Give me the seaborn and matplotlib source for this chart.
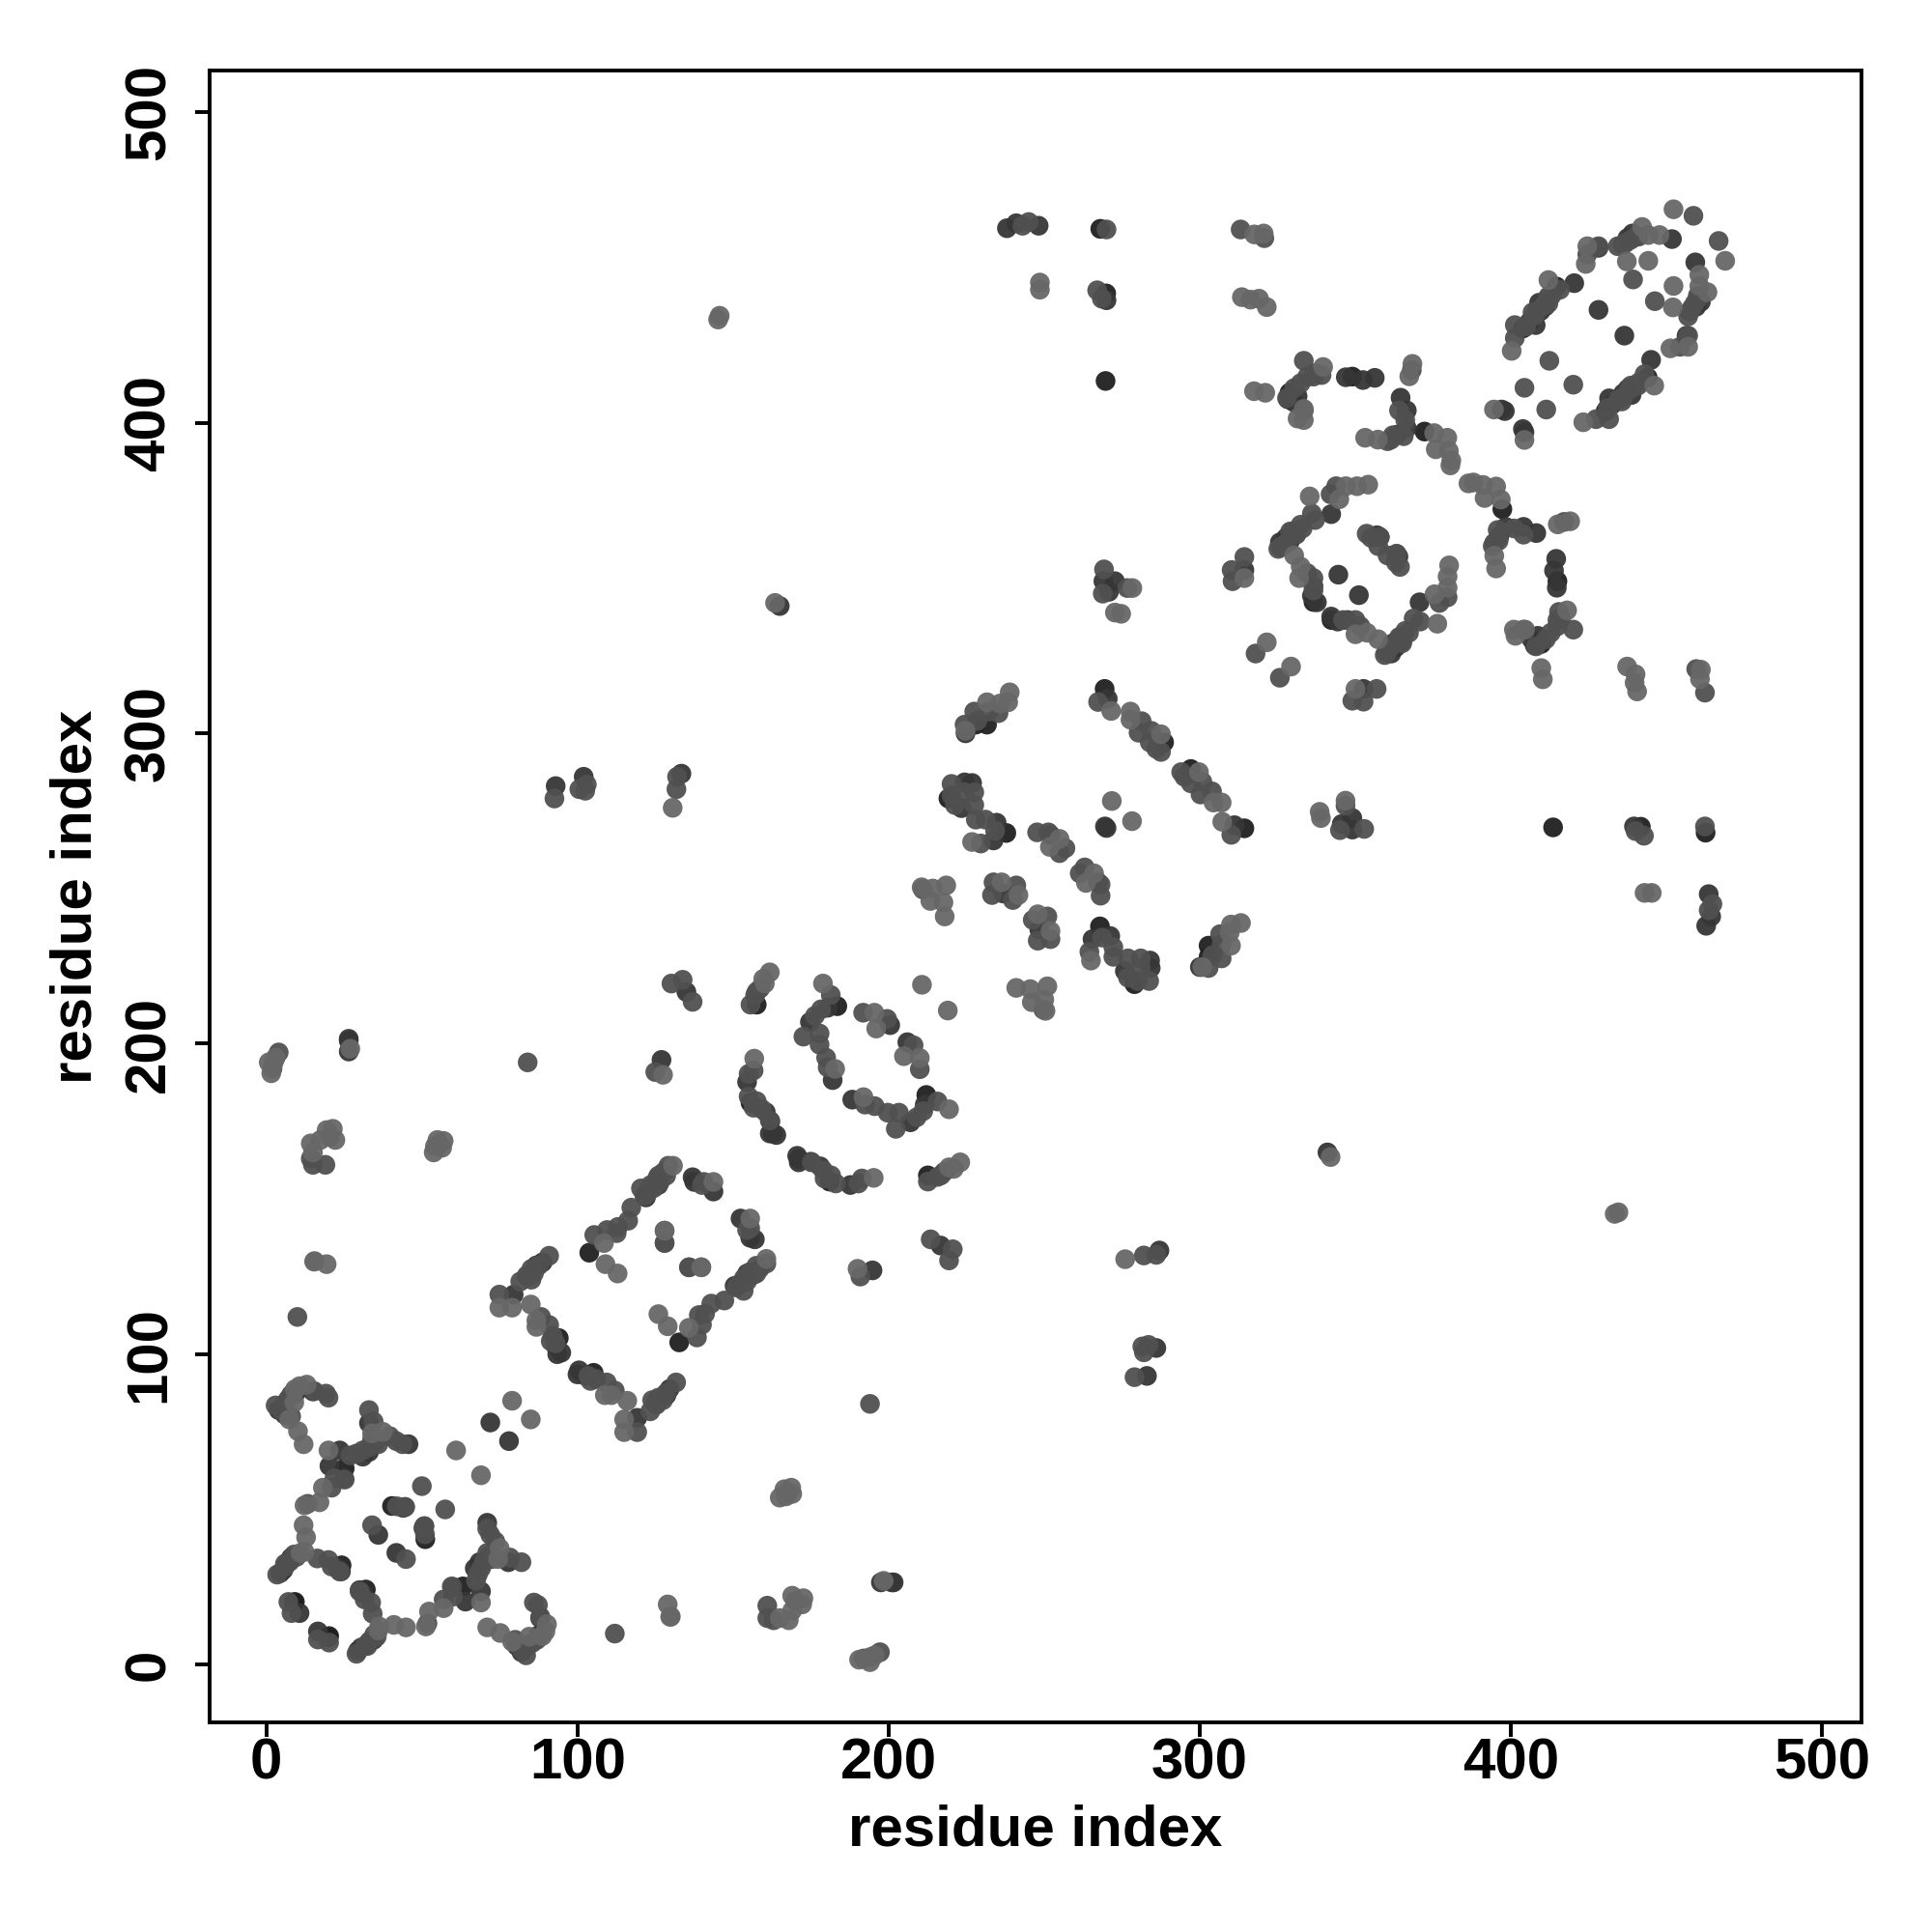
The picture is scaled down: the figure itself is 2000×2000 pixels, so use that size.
import matplotlib
matplotlib.use("Agg")
import matplotlib.pyplot as plt
import pandas as pd
import seaborn as sns

# contacts are read from the part of the map above the diagonal (residue i, residue j),
# the map is symmetric so the other half comes from swapping the columns
very_dark_contacts = [
    (25.2, 63.2), (24.2, 32), (9.2, 20.2), (40.4, 51.1), (8.8, 20), (103.8, 132.7), (94, 105.2),
    (157.6, 212.6), (183.5, 212.1), (269.4, 314.3), (288.5, 297.1),
    (228, 302.8), (231.6, 302.8), (372.2, 397.2), (336.5, 342.3), (328.8, 409.7), (414.6, 443.9),
    (269.7, 413.5), (269.9, 441.7), (268, 462.5), (237.8, 267.9), (219.2, 279), (349, 414.9),
    (403.8, 430.4), (155.6, 181),
]

dark_contacts = [
    (4, 82), (6, 80.5), (9.5, 87.5), (15, 88), (23.6, 69), (20.3, 64), (33, 77.8), (25, 60),
    (45.7, 71), (24, 30), (23, 31), (4.5, 29.5), (5.5, 30.5), (10.7, 16.6), (50.5, 44), (36, 41.8),
    (72, 78), (79.5, 119.2), (86.8, 128.6), (88.8, 129.6), (93, 102.6), (94.8, 100.5), (93.5, 100),
    (137, 157), (137.5, 155.5), (143.7, 152.4), (154.5, 187.7), (162.8, 171.1), (161.8, 171.1),
    (170.6, 163.9), (174.7, 207), (180.4, 211.6), (182, 188.3), (224.7, 300), (270.4, 311.1),
    (226.8, 284), (224.4, 284.2), (223.4, 275.9), (234.7, 271.2), (233.7, 265.5), (236.8, 248.4),
    (267.3, 252), (328.3, 407.6), (330.3, 406.6), (331.4, 408.6), (346.9, 414.7), (352.4, 413.8),
    (364.5, 408.1), (366.5, 404), (366.5, 398.3), (363.4, 396.2), (342.2, 370.6), (327.7, 363),
    (325.7, 361.5), (336.5, 347.4), (336, 344.3), (337.6, 342.2), (344.5, 351.1), (356.9, 363.8),
    (357.8, 363.2), (314.3, 352.6), (407.9, 431.5), (405.9, 432.5), (409, 438.7), (420.3, 445),
    (428.1, 436.4), (428.1, 456.4), (437.4, 459.5), (439, 461), (451.7, 459.2), (397, 404.3),
    (403.8, 398), (356.2, 414.5), (269, 349), (270.8, 345.6), (272.7, 349), (248.2, 463.5),
    (238, 462.7), (241, 464.3), (93, 283), (102, 286), (26.5, 201.6), (133.4, 287), (165, 341),
    (162, 175), (160.5, 178), (127, 194.8), (135, 216.7), (200.5, 206), (201, 26.5), (197.5, 26.5),
    (7, 33), (8, 34.5), (31, 67), (33, 68.5), (122, 150.5), (126, 154.5), (409.5, 436), (411, 437.5),
    (329, 362), (331, 364.5), (269.5, 270), (270, 439.5),
]

mid_contacts = [
    (3, 83.5), (5, 81.9), (7, 85.5), (8, 87), (6, 84), (8, 80), (15.4, 88.1), (19.2, 87.3),
    (20, 86), (33, 82), (34.5, 78.3), (27, 67.4), (29, 68), (31, 69), (33, 70), (35, 71.5),
    (36, 71), (39.7, 73.6), (41.8, 72), (43.8, 71), (21.9, 60), (21, 57), (25.2, 59.6), (13.3, 51.8),
    (9.7, 34.7), (7.6, 33.2), (6, 31.6), (3.5, 29), (16.4, 34.2), (20, 33.7), (21, 31.6), (23.6, 30),
    (7.1, 20.2), (8.1, 16.6), (50, 57.5), (44.6, 50.8), (42, 51), (34, 44.9), (50.8, 44.6),
    (74.9, 119.2), (81.6, 123.4), (83.7, 125.4), (85.2, 127.5), (84, 125), (87.5, 128.5), (90.9, 131.7),
    (90.9, 109.4), (88.3, 112), (91.4, 104.2), (93, 103.5), (92, 106), (105.4, 138.4), (109.5, 140),
    (112.6, 139), (113, 141), (116.3, 143), (117.3, 147.2), (120.4, 153.4), (122.5, 151.9), (121.5, 151),
    (123.5, 154.5), (124.5, 153.5), (125.6, 156.6), (126.5, 155.5), (127.6, 158.6), (128.5, 157.5),
    (129.2, 160.7), (140.6, 155.5), (140, 154.5), (128, 135.8), (135.9, 128), (85.2, 124), (86, 126),
    (156.6, 191.4), (155, 190.3), (155, 183), (157.6, 181.5), (159.2, 179), (161.8, 175.3), (156.6, 179.4),
    (157.6, 216.8), (157.1, 215.7), (158.7, 217.8), (155.6, 212.6), (176.3, 209), (178.3, 211.1),
    (181.4, 215.7), (172.6, 202.3), (177.8, 203.3), (177.8, 199.7), (179.9, 195.5), (180.4, 192.4),
    (191.8, 210), (199.5, 208), (227.5, 307), (235.3, 306.5), (228.5, 304), (232.1, 307), (224.4, 302.8),
    (267.3, 310.1), (281.3, 303.9), (280.3, 300.2), (284.4, 300.8), (283.9, 297.1), (286, 295),
    (287.5, 294), (220.2, 283.7), (224.4, 281), (227.5, 281), (221.3, 276.9), (220.2, 280), (227.5, 276.9),
    (231.1, 272.2), (228, 272.2), (234.2, 268.6), (229.6, 264.5), (247.7, 268.1), (251.3, 268.1),
    (254.9, 261.4), (256.8, 263), (233.7, 252), (233.2, 247.9), (239.9, 246.3), (241, 251),
    (330.3, 411.2), (333.4, 420), (332.4, 412.8), (334.5, 414.9), (336.5, 414.9), (339.1, 415.4),
    (337, 416), (328, 408), (333.4, 404), (368.1, 417), (364, 404), (361.4, 394.6), (360.3, 394.1),
    (362, 396), (365.5, 395.7), (366, 400.9), (329.8, 365.1), (332.4, 367.2), (336, 370.8), (337, 368.7),
    (326, 360), (325.2, 359.4), (331, 364), (333, 366), (336.5, 350), (336.5, 346), (334.5, 351.6),
    (343.8, 379.6), (342, 377), (353.6, 364.3), (355, 363), (360.3, 357.3), (363.2, 357.8),
    (310.2, 352.6), (314.3, 356.8), (310.5, 349), (317.9, 325.7), (401.2, 431.5), (401.2, 427.3),
    (404.8, 431), (406.9, 435.6), (407.5, 434.5), (408.2, 436), (410.5, 437.7), (411.5, 439), (412, 440.8),
    (415.7, 442.9), (424.5, 454.3), (428.1, 456.9), (434.3, 456.9), (435.9, 457.4), (436.9, 458),
    (441, 460), (438.5, 459), (440, 460), (439.2, 446.2), (458.6, 466.7), (404.3, 411.3),
    (412.3, 420), (268.8, 345), (267, 442.7), (245, 464.7), (243, 463.5), (313.1, 462.3),
    (320.7, 459.5), (92.6, 279), (103, 283.5), (100.6, 282), (131.8, 282), (14.3, 163), (15, 161), (19, 161),
    (84, 194), (10, 112), (133.8, 220.6), (130.2, 219.4), (137, 213.5), (125, 190.9), (4, 197.2),
    (276.7, 346.8), (269.2, 352.8), (249.7, 211), (270, 462.3), (268.5, 440), (2, 192),
    (132, 286), (6, 32.5), (9, 35.5), (34, 72.5), (123, 153), (125, 155), (126, 157.5), (412, 438.5),
    (413, 441), (327.5, 361), (329, 365), (102.5, 281.5), (55.5, 167.5), (20.5, 170),
]

light_contacts = [
    (9, 84.5), (10.2, 75.2), (7.4, 79), (12, 71), (13, 90.2), (10.7, 89.7), (9.2, 88.7), (20, 69),
    (34, 74.5), (37.5, 75), (18.2, 57), (17.1, 52.3), (12.3, 51.3), (12, 44.9), (12.8, 41), (12.3, 36.3),
    (11, 36), (61, 69), (79, 85), (85, 116), (86.8, 110.9), (86.8, 108.8), (74.9, 115), (79, 115),
    (108.5, 135.8), (109, 129), (112.9, 126), (143.7, 155.5), (130.7, 160.7), (128, 139.8), (139.8, 128),
    (161.8, 223), (160.2, 219.4), (159.7, 220.9), (156.8, 195.2), (178.9, 219.4), (182.8, 191.9),
    (195.4, 210), (196, 204.9), (210.7, 219), (238.9, 313.2), (235.8, 309.6), (231.6, 310), (238.4, 310),
    (224.7, 300.8), (271.5, 307.2), (277.7, 307), (277.7, 304.4), (287.5, 299.7), (271.7, 278.2),
    (251.8, 263.4), (254.9, 266), (226.8, 265), (236.3, 252), (241.7, 247.9), (210.6, 250.4),
    (214.2, 250), (218.5, 251), (213.4, 246), (217.6, 245.5), (218, 241), (317.4, 410.2), (321, 409.7),
    (339.6, 418), (331.4, 401.4), (333.4, 400.9), (333.4, 404.5), (368.3, 419), (367.3, 415),
    (353.1, 395.2), (357.2, 394.6), (375.3, 396.7), (379.5, 395.2), (375.8, 391.5), (380, 391),
    (380.8, 387.9), (380.5, 386.3), (335.3, 376.3), (344.8, 375.4), (346.9, 379.6), (350.5, 379.6),
    (354.1, 380.1), (330.3, 357.3), (332.4, 353.7), (331.9, 350), (314.3, 350), (321.5, 329.3),
    (400.2, 423.2), (412, 446), (424, 451.2), (424.5, 456.9), (442.1, 463.1), (444.1, 460.5),
    (447.7, 460.5), (452.2, 468.8), (437.2, 452), (444.1, 452.2), (394.5, 404.3), (248.6, 445.2),
    (248.6, 442.9), (317.5, 460.7), (313.5, 440.5), (316.3, 439.7), (319, 440), (321.5, 437.3),
    (145.7, 434.5), (145.2, 433.3), (163.5, 342), (130.6, 276), (1.6, 190.5), (2.4, 194), (0.8, 194),
    (27, 198.4), (15.4, 129.8), (19.4, 129), (14.3, 167.9), (17.4, 169), (21.4, 172.6), (22.2, 169),
    (19.4, 172.2), (53.8, 165), (54.2, 167), (55, 169), (57, 168.7), (127.5, 190), (278.3, 346.8),
    (272.7, 338.9), (274.7, 338.5), (15, 165), (15.5, 130), (3, 195.5), (56.5, 166.5), (320.5, 461),
]

axis_ticks = [0, 100, 200, 300, 400, 500]
axis_label = "residue index"
tone_order = ["very dark", "dark", "mid", "light"]
tone_colors = ["#1f1f1f", "#363636", "#505050", "#676767"]

frames = []
for tone, contacts in zip(tone_order, [very_dark_contacts, dark_contacts, mid_contacts, light_contacts]):
    half = pd.DataFrame(contacts, columns=["i", "j"])
    half["tone"] = tone
    frames.append(half)
    frames.append(half.rename(columns={"i": "j", "j": "i"}))
contact_df = pd.concat(frames, ignore_index=True)

sns.set_theme(style="white")
plt.rcParams["font.family"] = ["Liberation Sans", "DejaVu Sans"]

fig = plt.figure(figsize=(10, 10), dpi=200)
ax = fig.add_axes([0.1085, 0.1085, 0.855, 0.855])

sns.scatterplot(
    data=contact_df, x="i", y="j", hue="tone", hue_order=tone_order, palette=tone_colors,
    s=54, linewidth=0, alpha=0.95, legend=False, ax=ax,
)

ax.set_xlim(-18.2, 512.6)
ax.set_ylim(-18.6, 513.5)
ax.set_xticks(axis_ticks)
ax.set_yticks(axis_ticks)
ax.tick_params(axis="both", length=5.5, width=1.4, color="black", labelcolor="black", bottom=True, left=True)
ax.tick_params(axis="x", pad=0)
ax.tick_params(axis="y", pad=7)
for label in ax.get_xticklabels():
    label.set_fontsize(21.6)
    label.set_fontweight("bold")
for label in ax.get_yticklabels():
    label.set_fontsize(21.6)
    label.set_fontweight("bold")
    label.set_rotation(90)
    label.set_va("center")
ax.set_xlabel(axis_label, fontsize=21.6, fontweight="bold", color="black", labelpad=5)
ax.set_ylabel(axis_label, fontsize=21.6, fontweight="bold", color="black", labelpad=7.5)
for spine in ax.spines.values():
    spine.set_visible(True)
    spine.set_color("black")
    spine.set_linewidth(1.4)

fig.savefig("out.png", dpi=200)
